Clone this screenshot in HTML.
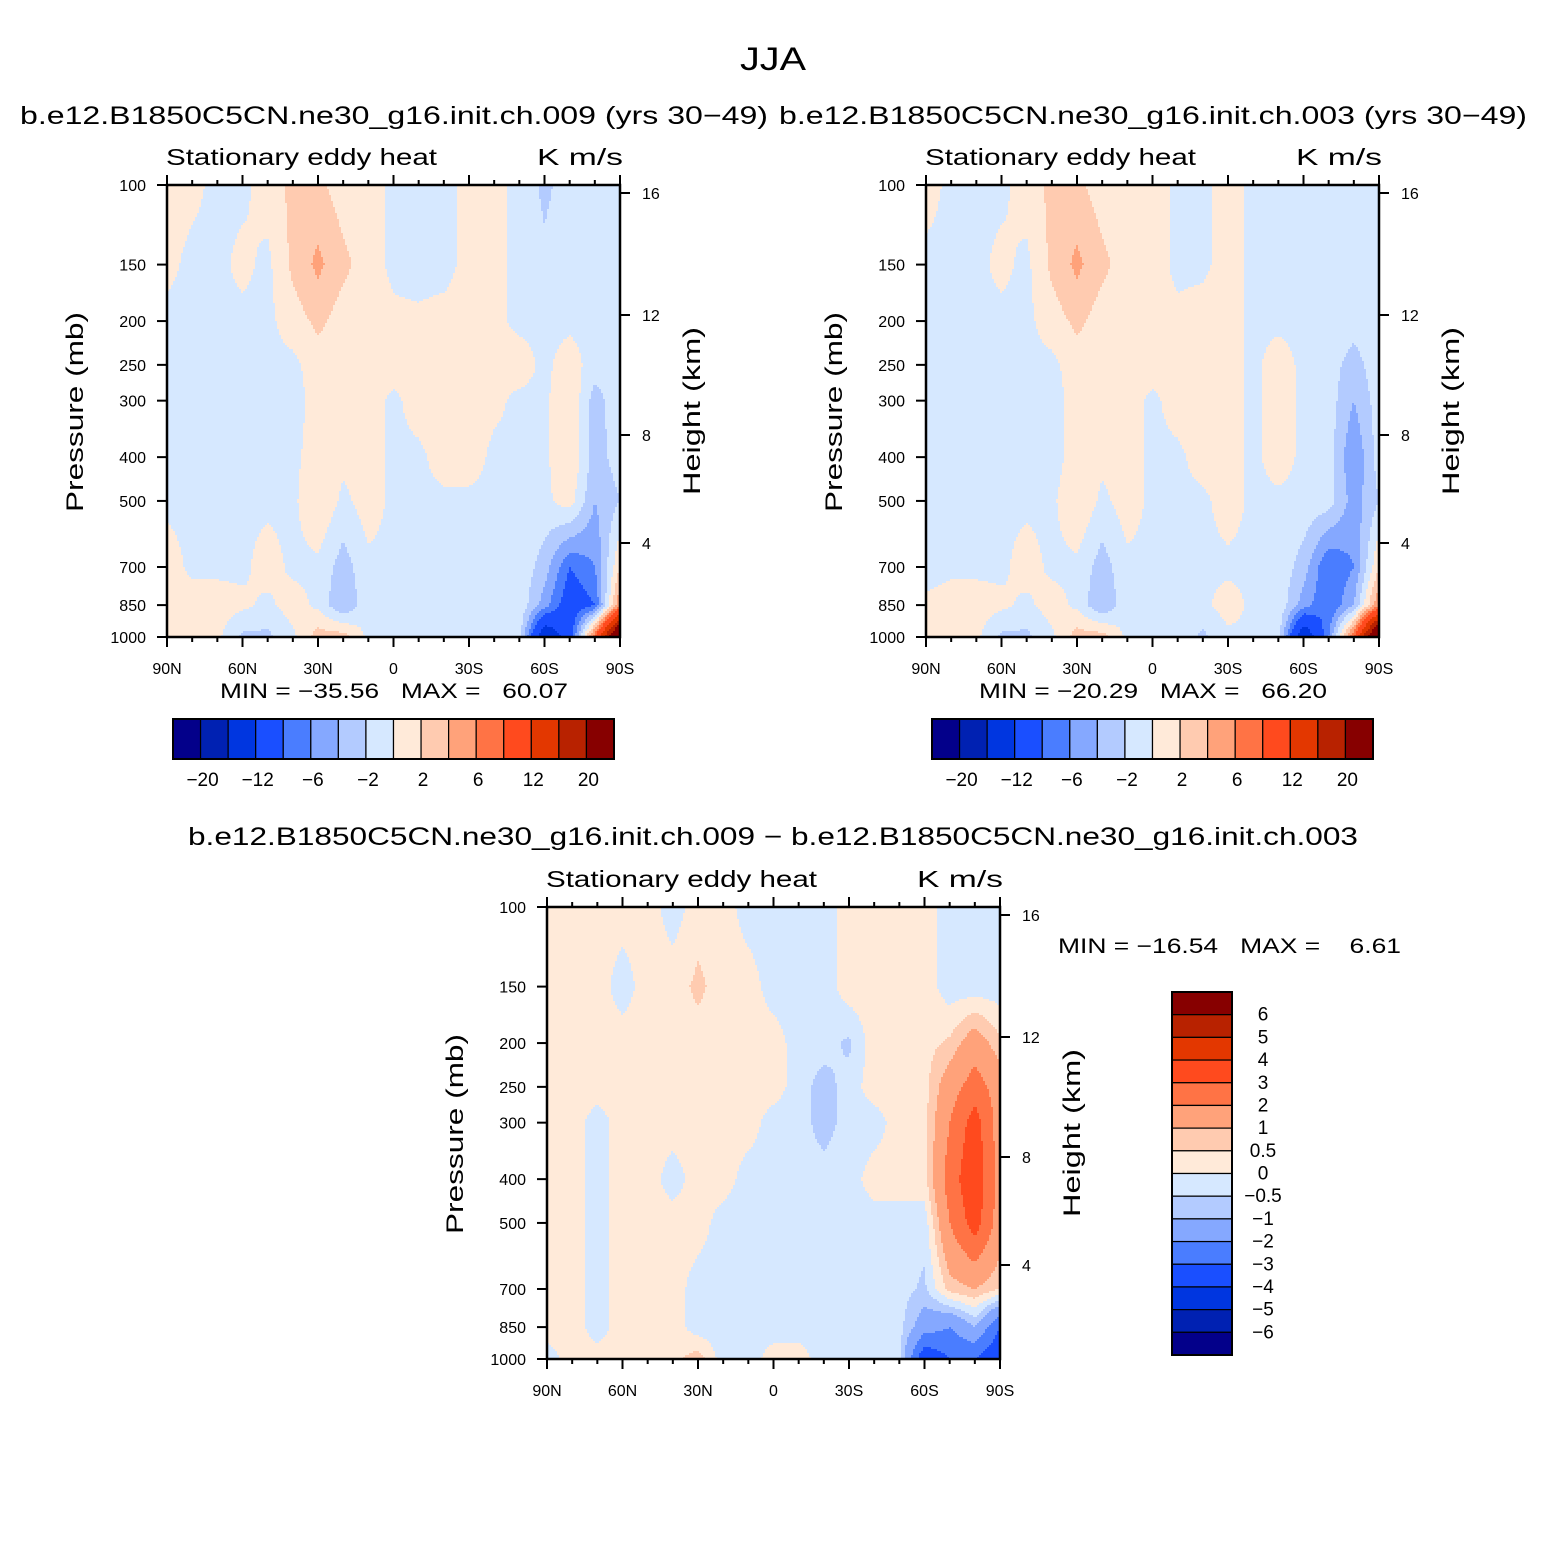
<!DOCTYPE html>
<html><head><meta charset="utf-8"><style>
body{margin:0;background:#fff;}
svg{display:block;font-family:"Liberation Sans",sans-serif;}
</style></head><body>
<svg id="root" width="1547" height="1544" viewBox="0 0 1547 1544" xmlns="http://www.w3.org/2000/svg">
<rect width="1547" height="1544" fill="#fff"/>
<text x="740" y="70" font-size="32" textLength="66" lengthAdjust="spacingAndGlyphs">JJA</text>
<text x="20" y="124" font-size="25" textLength="748" lengthAdjust="spacingAndGlyphs">b.e12.B1850C5CN.ne30_g16.init.ch.009 (yrs 30−49)</text>
<text x="779" y="124" font-size="25" textLength="748" lengthAdjust="spacingAndGlyphs">b.e12.B1850C5CN.ne30_g16.init.ch.003 (yrs 30−49)</text>
<text x="188" y="845" font-size="25" textLength="1170" lengthAdjust="spacingAndGlyphs">b.e12.B1850C5CN.ne30_g16.init.ch.009 − b.e12.B1850C5CN.ne30_g16.init.ch.003</text>
<text x="220" y="698" font-size="21" textLength="348" lengthAdjust="spacingAndGlyphs" xml:space="preserve">MIN = −35.56   MAX =   60.07</text>
<text x="979" y="698" font-size="21" textLength="348" lengthAdjust="spacingAndGlyphs" xml:space="preserve">MIN = −20.29   MAX =   66.20</text>
<text x="1058" y="953" font-size="21" textLength="343" lengthAdjust="spacingAndGlyphs" xml:space="preserve">MIN = −16.54   MAX =    6.61</text>
</svg>
<script>
const lats=[90,80,70,60,50,40,30,20,10,0,-10,-20,-30,-40,-50,-60,-70,-80,-90];
const pLevels=[100,150,200,250,300,400,500,700,850,1000];
const field1=[
[0.8,0.5,-0.5,-0.5,1,2.5,2.5,1,1,-0.5,-1,-1,1,0.5,-0.5,-2.5,-1,-0.5,-0.5],
[0.5,-0.5,-0.5,0.5,-0.5,2.5,4.5,2.5,1,-0.5,-1,-1,1,0.5,-0.5,-1.5,-0.5,-0.5,-0.5],
[-0.5,-0.5,-0.5,-0.5,-0.5,1,2.5,1,1,0.5,0.5,1,1,0.5,-0.5,-0.5,-0.5,-0.5,-0.5],
[-0.5,-0.5,-0.5,-0.5,-0.5,-0.5,1,1,1,1,1,1,1,0.5,1,-0.5,1,-1,-0.5],
[-0.5,-0.5,-0.5,-0.5,-0.5,-1,1,1,1,-0.5,1,1,1,0.5,-0.5,-0.5,2,-3,-0.5],
[-0.5,-0.5,-0.5,-0.5,-0.5,-0.5,1,0.5,1,-0.5,-0.5,1,1,-0.5,-0.5,-0.5,2,-3,-1],
[-0.5,-0.5,-0.5,-0.5,-0.5,-0.5,2,-0.5,1,-0.5,-0.5,-0.5,-0.5,-0.5,-0.5,-0.5,1,-4,-2],
[1,-0.5,-0.5,-0.5,1,-0.5,-0.5,-3,-0.5,-0.5,-0.5,-0.5,-0.5,-0.5,-0.5,-3,-8,-6,2],
[0.5,1,1,0.5,-0.5,1,-0.5,-4,-0.5,-0.5,-0.5,-0.5,-0.5,-0.5,-0.5,-5,-10,-8,6],
[0.5,0.5,0.5,-2.5,-2.5,-0.5,3,3,-0.5,-0.5,-0.5,-0.5,-0.5,-0.5,-1,-16,-10,8,30]];
const field2=[
[0.8,-0.5,-0.5,-0.5,1,2.5,2.5,1,1,1,-0.5,-0.5,1,-0.5,-0.5,-1.5,-0.5,-0.5,-0.5],
[-0.5,-0.5,-0.5,0.5,-0.5,2.5,4.5,2.5,1,1,-0.5,-0.5,1,-0.5,-0.5,-0.5,-0.5,-0.5,-0.5],
[-0.5,-0.5,-0.5,-0.5,-0.5,1,2.5,1,1,0.5,0.5,1,1,-0.5,-0.5,-0.5,-0.5,-1,-0.5],
[-0.5,-0.5,-0.5,-0.5,-0.5,-0.5,1,1,1,1,1,1,1,-0.5,1,-0.5,-1,-3,-0.5],
[-0.5,-0.5,-0.5,-0.5,-0.5,-1,1,1,1,-0.5,1,1,1,-0.5,1,-0.5,-1,-4,-1],
[-0.5,-0.5,-0.5,-0.5,-0.5,-1,1,0.5,1,-0.5,-0.5,1,1,-0.5,1,-0.5,-1,-6,-1],
[-0.5,-0.5,-0.5,-0.5,-0.5,-0.5,2,-0.5,1,-0.5,-0.5,-0.5,1,-0.5,-0.5,-0.5,-1,-5,-2],
[-1,-0.5,-0.5,-0.5,1,-0.5,-0.5,-3,-0.5,-0.5,-0.5,-0.5,-0.5,-0.5,-0.5,-3,-8,-6,2],
[0.5,1,1,0.5,-0.5,1,-0.5,-4,-0.5,-0.5,-0.5,-0.5,1,-0.5,-0.5,-5,-8,-4,6],
[0.5,0.5,0.5,-2.5,-2.5,-0.5,3,3,-0.5,-0.5,-0.5,-2.5,-0.5,-0.5,-1,-16,-6,8,30]];
const field3=[
[0.3,0.3,0.3,0.3,0.3,-0.3,0.3,0.3,-0.3,-0.3,-0.3,-0.3,0.3,0.3,0.3,0.3,-0.3,-0.3,-0.3],
[0.3,0.3,0.3,-0.3,0.3,0.3,0.6,0.3,0.3,-0.3,-0.3,-0.3,0.3,0.3,0.3,0.3,-0.3,-0.3,-0.3],
[0.3,0.3,0.3,0.3,0.3,0.3,0.3,0.3,0.3,0.3,-0.3,-0.3,-0.6,0.3,0.3,0.3,0.6,1.5,0.6],
[0.3,0.3,0.3,0.3,0.3,0.3,0.3,0.3,0.3,0.3,-0.3,-0.7,-0.3,0.3,0.3,0.3,1.5,2.5,1.5],
[0.3,0.3,-0.3,0.3,0.3,0.3,0.3,0.3,0.3,-0.3,-0.3,-0.7,-0.3,-0.3,0.3,0.3,2,3.5,1.5],
[0.3,0.3,-0.3,0.3,0.3,-0.3,0.3,0.3,-0.3,-0.3,-0.3,-0.3,-0.3,0.3,0.3,0.3,2.5,3.8,1.5],
[0.3,0.3,-0.3,0.3,0.3,0.3,0.3,-0.3,-0.3,-0.3,-0.3,-0.3,-0.3,-0.3,-0.3,-0.3,2,3.5,1.5],
[0.3,0.3,-0.3,0.3,0.3,0.3,-0.3,-0.3,-0.3,-0.3,-0.3,-0.3,-0.3,-0.3,-0.3,-0.6,0.7,1,0.5],
[0.3,0.3,-0.3,0.3,0.3,0.3,-0.3,-0.3,-0.3,-0.3,-0.3,-0.3,-0.3,-0.3,-0.3,-1.5,-2,-1,-3],
[-0.3,0.3,0.3,0.3,0.3,0.3,0.8,-0.3,-0.3,0.3,0.3,-0.3,-0.3,-0.3,-0.3,-4,-3,-3,-4]];
const levels12=[-20,-16,-12,-8,-6,-4,-2,0,2,4,6,8,12,16,20];
const levels3=[-6,-5,-4,-3,-2,-1,-0.5,0,0.5,1,2,3,4,5,6];
const colors=["#03008a","#0021b2","#0036e0","#1a4fff","#4a7dff","#85a8ff","#b3cbff","#d6e8ff","#ffead9","#ffcbb0","#ffa27a","#ff7345","#ff4a1e","#e33700","#b82200","#870000"];
const cb12Labels=["−20","−12","−6","−2","2","6","12","20"];
const cb3Labels=["6","5","4","3","2","1","0.5","0","−0.5","−1","−2","−3","−4","−5","−6"];
const latTicks=["90N","60N","30N","0","30S","60S","90S"];
const pTicks=[100,150,200,250,300,400,500,700,850,1000];
const hTicks=[[16,193],[12,315],[8,435],[4,543]];

const NS='http://www.w3.org/2000/svg';
const root=document.getElementById('root');
function mk(tag,attrs,parent){const e=document.createElementNS(NS,tag);for(const k in attrs)e.setAttribute(k,attrs[k]);(parent||root).appendChild(e);return e;}
function levelIndex(v,b){let i=0;while(i<b.length&&v>=b[i])i++;return i;}
function sample(field,lat,p){
  let fi=(90-lat)/10;let i=Math.min(17,Math.max(0,Math.floor(fi)));let s=Math.min(1,Math.max(0,fi-i));
  let k=0;while(k<pLevels.length-2&&p>pLevels[k+1])k++;
  let t=(Math.log(p)-Math.log(pLevels[k]))/(Math.log(pLevels[k+1])-Math.log(pLevels[k]));
  t=Math.max(0,Math.min(1,t));
  const a=field[k][i]*(1-s)+field[k][i+1]*s, b=field[k+1][i]*(1-s)+field[k+1][i+1]*s;
  return a*(1-t)+b*t;
}
function panel(name,field,bounds,x0,y0,w,h){
  const xs=lat=>x0+(90-lat)/180*w;
  const ys=p=>y0+Math.log10(p/100)*h;
  const g=mk('g',{});
  
  
  const st=2;
  for(let py=0;py<h;py+=st){
    const p=100*Math.pow(10,(py+st/2)/h);
    const cols=[];
    for(let px=0;px<w;px+=st){const lat=90-(px+st/2)/w*180;cols.push(levelIndex(sample(field,lat,p),bounds));}
    cols.push(-2);
    let rs=0,rc=cols[0];
    for(let j=1;j<cols.length;j++){
      const c=cols[j];
      if(c!==rc){
        const xa=rs*st, xb=Math.min(w,j*st);
        const r=mk('rect',{x:x0+xa,y:y0+py,width:xb-xa+0.6,height:Math.min(st+0.6,h-py),fill:colors[Math.min(15,rc)]},g);
        
        
        rs=j;rc=c;
      }
    }
  }
  const fr=mk('rect',{x:x0,y:y0,width:w,height:h,fill:'none',stroke:'#000','stroke-width':2.5});
  
  
  for(let lat=90;lat>=-90;lat-=10){
    const major=lat%30===0;const x=xs(lat);const L=major?10:5;
    mk('line',{x1:x,x2:x,y1:y0+h,y2:y0+h+L,stroke:'#000','stroke-width':2});
    mk('line',{x1:x,x2:x,y1:y0,y2:y0-L,stroke:'#000','stroke-width':2});
    if(major){const t=mk('text',{x:x,y:y0+h+37,'font-size':16,'text-anchor':'middle'});
      t.textContent=latTicks[(90-lat)/30];
      
      }
  }
  pTicks.forEach(p=>{const y=ys(p);
    mk('line',{x1:x0,x2:x0-10,y1:y,y2:y,stroke:'#000','stroke-width':2});
    const t=mk('text',{x:x0-21,y:y+6,'font-size':16,'text-anchor':'end'});t.textContent=p;
    
    });
  hTicks.forEach(([hv,yy])=>{const y=y0+(yy-185);
    mk('line',{x1:x0+w,x2:x0+w+10,y1:y,y2:y,stroke:'#000','stroke-width':2});
    const t=mk('text',{x:x0+w+22,y:y+6,'font-size':16});t.textContent=hv;
    
    });
  const yl=mk('text',{x:-100,y:0,'font-size':24,textLength:200,lengthAdjust:'spacingAndGlyphs',transform:`translate(${x0-84},${y0+h/2+1}) rotate(-90)`});
  yl.textContent='Pressure (mb)';
  
  
  const yr=mk('text',{x:-84,y:0,'font-size':24,textLength:168,lengthAdjust:'spacingAndGlyphs',transform:`translate(${x0+w+80},${y0+h/2}) rotate(-90)`});
  yr.textContent='Height (km)';
  
  
  const l=mk('text',{x:x0-1,y:y0-20,'font-size':23,textLength:271,lengthAdjust:'spacingAndGlyphs'});l.textContent='Stationary eddy heat';
  
  
  const r=mk('text',{x:x0+w-83,y:y0-20,'font-size':23,textLength:86,lengthAdjust:'spacingAndGlyphs'});r.textContent='K m/s';
  
  
}
function hbar(name,x0,y0,w,h){
  const bw=w/16;
  const g=mk('g',{});
  
  
  colors.forEach((c,i)=>{const r=mk('rect',{x:x0+i*bw,y:y0,width:bw,height:h,fill:c,stroke:'#000','stroke-width':1.2},g);
    
    });
  mk('rect',{x:x0,y:y0,width:w,height:h,fill:'none',stroke:'#000','stroke-width':2},g);
  cb12Labels.forEach((s,j)=>{const t=mk('text',{x:x0+(2*j+1)*bw+2,y:y0+h+27,'font-size':19,'text-anchor':'middle'},g);t.textContent=s;
    
    });
}
panel('panel1',field1,levels12,167,185,453,452);
panel('panel2',field2,levels12,926,185,453,452);
panel('panel3',field3,levels3,547,907,453,452);
hbar('colorbar1',173,719,441,40);
hbar('colorbar2',932,719,441,40);
(function(){
  const x0=1172,y0=992,w=60,h=363,bh=h/16;
  const g=mk('g',{});
  
  
  colors.slice().reverse().forEach((c,i)=>{const r=mk('rect',{x:x0,y:y0+i*bh,width:w,height:bh,fill:c,stroke:'#000','stroke-width':1.2},g);
    
    });
  mk('rect',{x:x0,y:y0,width:w,height:h,fill:'none',stroke:'#000','stroke-width':2},g);
  cb3Labels.forEach((s,j)=>{const t=mk('text',{x:1263,y:y0+(j+1)*bh+6,'font-size':19,'text-anchor':'middle'},g);t.textContent=s;
    
    });
})();
</script>
</body></html>
